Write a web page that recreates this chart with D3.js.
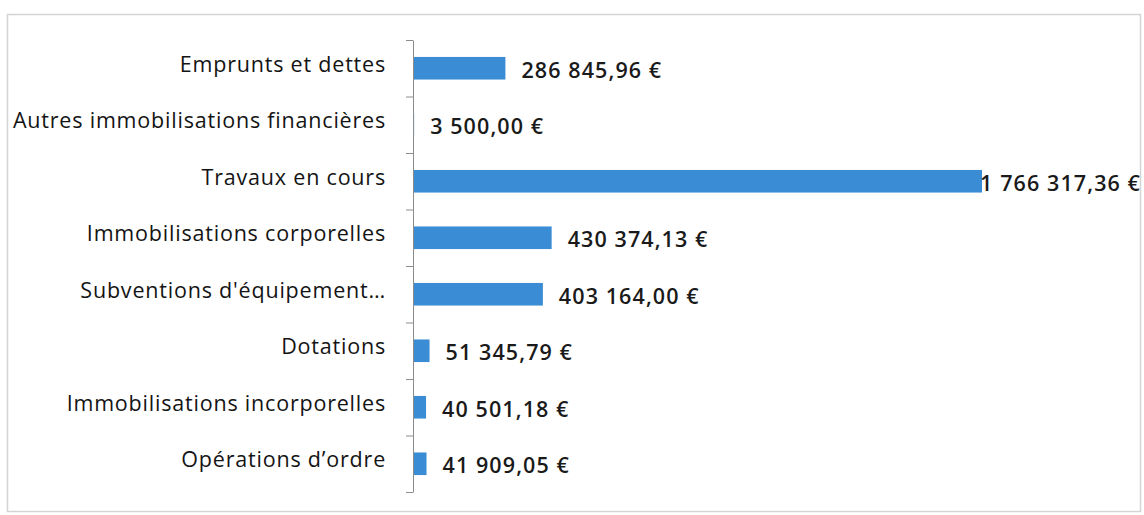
<!DOCTYPE html>
<html>
<head>
<meta charset="utf-8">
<script src="https://cdn.jsdelivr.net/npm/d3@7"></script>
<style>
  body { margin: 0; background: #fff; }
  svg { display: block; }
</style>
</head>
<body>
<svg id="chart"></svg>
<script>
const categories = [
  'Emprunts et dettes',
  'Autres immobilisations financières',
  'Travaux en cours',
  'Immobilisations corporelles',
  "Subventions d'équipement…",
  'Dotations',
  'Immobilisations incorporelles',
  'Opérations d’ordre'
];
const values = [286845.96, 3500.00, 1766317.36, 430374.13, 403164.00, 51345.79, 40501.18, 41909.05];

const width = 1144;
const height = 515;
const axisX = 413;
const plotTop = 40, plotBottom = 492;
const maxX = 982;

const fmt = v => {
  const [int, dec] = v.toFixed(2).split('.');
  return int.replace(/\B(?=(\d{3})+(?!\d))/g, ' ') + ',' + dec + ' €';
};

const svg = d3.select('#chart')
  .attr('width', width)
  .attr('height', height)
  .style('font-family', '"Open Sans", sans-serif');

// scanned frame
svg.append('rect')
  .attr('x', 7.5).attr('y', 14.5)
  .attr('width', 1133).attr('height', 497)
  .attr('fill', 'none')
  .attr('stroke', '#d4d4d4')
  .attr('stroke-width', 1.5);

const x = d3.scaleLinear()
  .domain([0, d3.max(values)])
  .range([axisX, maxX]);

const y = d3.scaleBand()
  .domain(categories)
  .range([plotTop, plotBottom])
  .paddingInner(0.6)
  .paddingOuter(0.3);

// ticks between categories
const yIdx = d3.scaleLinear().domain([0, categories.length]).range([plotTop, plotBottom]);
const yAxis = d3.axisLeft(yIdx)
  .tickValues(d3.range(categories.length + 1))
  .tickFormat('')
  .tickSize(7)
  .tickSizeOuter(0);

const ax = svg.append('g')
  .attr('transform', `translate(${axisX},0)`)
  .call(yAxis);
ax.select('.domain').attr('stroke', '#8c8c8c');
ax.selectAll('.tick line').attr('stroke', '#8c8c8c');

svg.selectAll('rect.bar')
  .data(values)
  .enter()
  .append('rect')
  .attr('class', 'bar')
  .attr('x', x(0) + 1)
  .attr('y', (d, i) => y(categories[i]))
  .attr('width', d => Math.max(0, x(d) - x(0) - 1))
  .attr('height', y.bandwidth())
  .attr('fill', '#3a8dd4');

svg.selectAll('text.cat')
  .data(categories)
  .enter()
  .append('text')
  .attr('class', 'cat')
  .attr('x', axisX - 27)
  .attr('y', d => y(d) + y.bandwidth() / 2 - 4)
  .attr('dy', '0.35em')
  .attr('text-anchor', 'end')
  .attr('fill', '#141414')
  .attr('font-size', '21.5px')
  .attr('letter-spacing', '0.8px')
  .text(d => d);

const labels = svg.selectAll('text.val')
  .data(values)
  .enter()
  .append('text')
  .attr('class', 'val')
  .attr('y', (d, i) => y(categories[i]) + y.bandwidth() / 2 + 2)
  .attr('dy', '0.35em')
  .attr('fill', '#1a1a1a')
  .attr('font-size', '21.5px')
  .attr('font-weight', 600)
  .attr('letter-spacing', '1.1px')
  .text(d => fmt(d));

labels.attr('x', function (d) {
  const w = this.getComputedTextLength();
  return Math.min(x(d) + 16, width - 3 - w);
});
</script>
</body>
</html>
